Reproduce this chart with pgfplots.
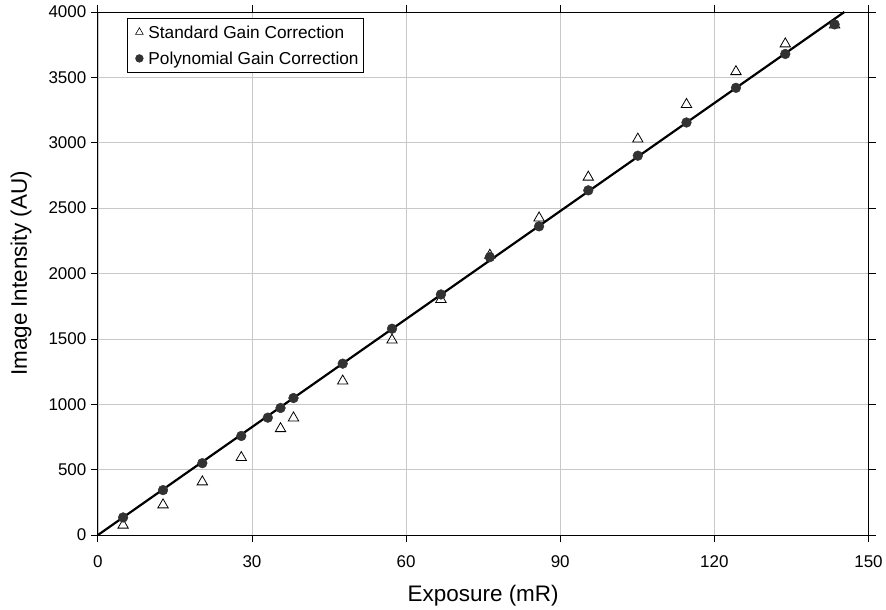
\documentclass[border=0pt]{standalone}
\usepackage{fontspec}
\setmainfont{Liberation Sans}
\usepackage{pgfplots}
\pgfplotsset{compat=1.18}
\definecolor{gridgray}{RGB}{200,200,200}
\definecolor{dotgray}{RGB}{50,50,50}
\begin{document}
\begin{tikzpicture}
\begin{axis}[
  scale only axis,
  width=772pt, height=524pt,
  xmin=0, xmax=150, ymin=0, ymax=4000,
  xtick={0,30,60,90,120,150},
  ytick={0,500,1000,1500,2000,2500,3000,3500,4000},
  tick align=outside,
  major tick length=7pt,
  tick style={black, line width=0.8pt},
  axis line style={black, line width=0.8pt},
  grid=major,
  major grid style={gridgray, line width=0.6pt},
  /pgf/number format/assume math mode=true,
  /pgf/number format/1000 sep={},
  tick label style={font=\fontsize{17}{19}\selectfont},
  xticklabel style={yshift=-10pt},
  yticklabel style={xshift=-1pt},
  xlabel={Exposure (mR)},
  ylabel={Image Intensity (AU)},
  label style={font=\fontsize{22.5}{26}\selectfont},
  xlabel style={at={(axis description cs:0.5,-0.1155)}, anchor=center},
  ylabel style={at={(axis description cs:-0.0997,0.5)}, anchor=center},
  legend style={at={(rel axis cs:0,1)}, anchor=north west, xshift=29.3pt, yshift=-6.3pt,
    font=\fontsize{17.3}{20}\selectfont, draw=black, line width=0.7pt,
    row sep=5.2pt, inner xsep=3pt, inner ysep=3pt,
    nodes={text height=15.5pt, text depth=3.6pt, inner ysep=1pt, inner xsep=2pt}},
  legend cell align=left,
  clip=true,
]
\addplot[only marks, mark=triangle, mark size=6pt, mark options={black, line width=0.8pt, fill=white},
  legend image code/.code={\path[draw=none, fill=none] (-9pt,0) -- (7pt,0); \draw[mark=triangle, mark size=4.4pt, mark options={black, line width=0.6pt, fill=white}] plot coordinates {(0pt,0pt)};}] coordinates {
(4.92,76) (12.69,231) (20.34,407) (27.92,593) (35.56,814) (38.08,896) (47.66,1178)
(57.26,1491) (66.78,1802) (76.3,2140) (85.88,2425) (95.46,2737) (105.1,3028)
(114.57,3293) (124.2,3544) (133.8,3756) (143.4,3901)
};
\addlegendentry{Standard Gain Correction\hspace{10pt}}
\addplot[only marks, mark=*, mark size=4.9pt, mark options={draw=dotgray, fill=dotgray},
  legend image code/.code={\path[draw=none, fill=none] (-9pt,0) -- (7pt,0); \draw[mark=*, mark size=3.8pt, mark options={draw=dotgray, fill=dotgray}] plot coordinates {(0pt,0pt)};}] coordinates {
(4.92,135) (12.69,344) (20.34,550) (27.92,758) (33.09,898) (35.56,972) (38.08,1048)
(47.66,1311) (57.26,1578) (66.78,1840) (76.3,2125) (85.88,2361) (95.46,2636)
(105.1,2901) (114.57,3155) (124.2,3420) (133.8,3679) (143.4,3905)
};
\addlegendentry{Polynomial Gain Correction}
\addplot[black, line width=2.2pt, no marks, forget plot] coordinates {(0,0) (145.3,4000)};
\coordinate (SW) at (rel axis cs:0,0);
\coordinate (NE) at (rel axis cs:1,1);
\end{axis}
\path (SW) ++(-98pt,-73pt) coordinate (BB1);
\path (NE) ++(16pt,12pt) coordinate (BB2);
\end{tikzpicture}
\end{document}
